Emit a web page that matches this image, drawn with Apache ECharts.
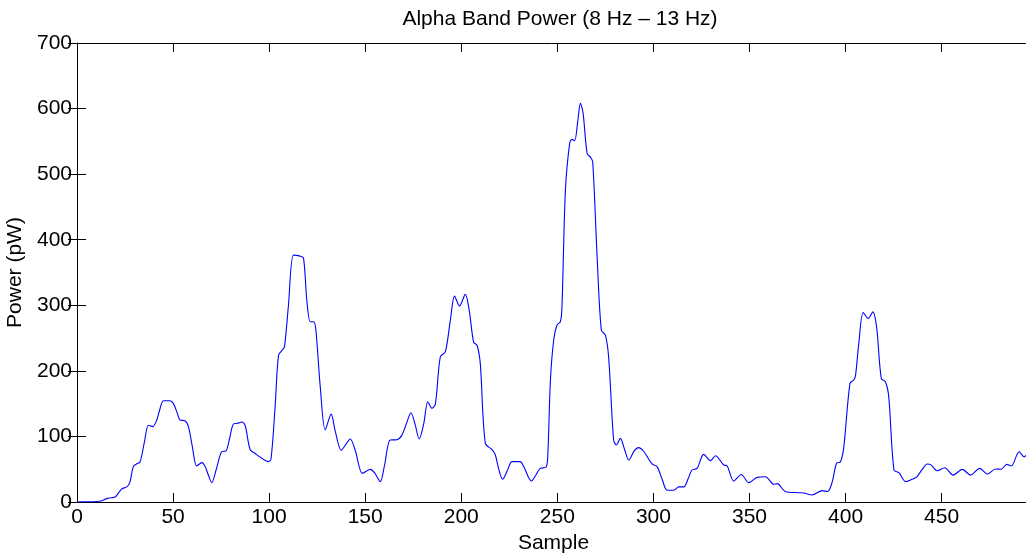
<!DOCTYPE html>
<html>
<head>
<meta charset="utf-8">
<script src="https://cdn.jsdelivr.net/npm/echarts@6/dist/echarts.min.js"></script>
<style>html,body{margin:0;padding:0;background:#fff}#c{width:1026px;height:554px}</style>
</head>
<body>
<div id="c"></div>
<script>
const titleText = 'Alpha Band Power (8 Hz \u2013 13 Hz)';
const xName = 'Sample';
const yName = 'Power (pW)';
const xTicks = [0, 50, 100, 150, 200, 250, 300, 350, 400, 450];
const yTicks = [0, 100, 200, 300, 400, 500, 600, 700];
const sampleX = [0,5,10,13,15.6,18,20,23.3,25.9,27.5,29.3,31,32.8,35,37.2,39.4,41.4,43,45,48.4,50.2,52,53.6,56.25,58,60,62.3,65,66.7,68.5,70.1,72.5,75.3,77.6,79.5,81.4,83.5,85.8,87.5,90.1,92.7,96.2,99.6,101,103.1,104.9,106.9,108,110,112.7,116.1,117.9,119.6,121.4,123.1,124.3,126.6,129.2,132.3,134.4,137.5,140,142.2,144.8,148.6,152.6,155,157.8,160,163,166.5,169.1,171.5,173.8,176,178.1,180.5,182.6,184.7,186.5,189.1,191.7,194.3,196.5,199.1,202.1,204.2,206.4,208.2,209.9,212.5,216,217.7,219.5,221.5,224,226.4,230.7,232.5,236.5,239,241.1,244.1,245,246.4,248.1,249.8,251.6,252.4,254.2,256.4,257.6,259,260.6,262,263.4,265.5,267.2,268.4,270.7,272.9,275,276.7,279.3,280.7,282.8,285,287.2,290,292.3,295,299.3,301.9,304.5,307.1,310.6,313.2,315.8,318,320.1,322.7,326.2,329.7,332.3,336.6,338.4,341.8,345.7,349.7,354,358.3,362.7,364.4,368.8,375.7,378.3,382.6,387.8,390.7,393.1,395.3,397.4,399.1,402.3,404.3,405.2,406.9,409.2,411.8,414.2,416.2,418.6,420.8,422.5,425.2,427.8,431.3,435.6,437,440,442.5,444.3,447.7,451.6,456,460.8,465.1,469.8,473.8,478.1,481,483.9,486.3,490.3,492.9,494.3,496];
const power = [0,0.3,0.8,2,5.5,6.5,8,20,23,30,54,58,61,90,117,115,124,140,154.5,154.5,150,137,125,124,115,85,55,60,54,40,29.5,50,76.7,78,98,119,120,122,117,80,74,66.6,61.5,66,145,224,232,237,298,376.5,375,372,308,275,275,263,176,110,134,108,79,88,96,79,43.7,49.8,44,31,55,94.5,95,102,120,136,118,96,120,153,143,149,221.5,229,277,314,299,316.6,291,244,239,211,89.5,80,72,50,34.6,48,61.5,61.5,54,32,42,51.3,53,69,186,247,270,275,297,475.6,547,553,551,580,608,593,531.5,526,519,374,262,254.6,221,94.5,87,97,80,64,78,83,77,58,54,35,18,18,23,23,35,48.8,51.3,72.7,63,70.6,56.4,55,32,42,29.5,37.6,38.4,27,28,15.7,14.2,13.7,10.7,17.3,16,31,59,61.5,84,181,186,193,242,289,280,290,266,188.5,183,160,48.8,44.7,31,36,38,50,58,57,47.7,52.3,41,49.8,41,51.3,42.7,50.3,50,57.4,55,76.7,69,71.5,72];

const font = '"Liberation Sans", Arial, Helvetica, sans-serif';
const chart = echarts.init(document.getElementById('c'), null, {renderer: 'canvas'});
const seriesData = sampleX.map((x, i) => [x, power[i]]);
const xMin = xTicks[0], xMax = 496, yMin = yTicks[0], yMax = yTicks[yTicks.length - 1];
const tickStyle = {show: true, inside: true, length: 9, lineStyle: {color: '#000', width: 1}};
chart.setOption({
  animation: false,
  backgroundColor: '#fff',
  title: {
    text: titleText, left: 555, top: 4, textAlign: 'center',
    textStyle: {fontFamily: font, fontSize: 21, fontWeight: 'normal', color: '#000'}
  },
  grid: {left: 77, top: 43, right: -4, bottom: 52, containLabel: false, outerBoundsMode: 'none'},
  xAxis: [{
    type: 'value', min: xMin, max: xMax, interval: 50, position: 'bottom',
    name: xName, nameLocation: 'middle', nameGap: 22,
    nameTextStyle: {fontFamily: font, fontSize: 21, color: '#000'},
    axisLine: {show: true, onZero: false, lineStyle: {color: '#000', width: 1}},
    axisTick: tickStyle,
    axisLabel: {fontFamily: font, fontSize: 21, color: '#000', margin: 5, showMaxLabel: false},
    splitLine: {show: false}
  }, {
    type: 'value', min: xMin, max: xMax, interval: 50, position: 'top',
    axisLine: {show: true, onZero: false, lineStyle: {color: '#000', width: 1}},
    axisTick: tickStyle, axisLabel: {show: false}, splitLine: {show: false}
  }],
  yAxis: [{
    type: 'value', min: yMin, max: yMax, interval: 100, position: 'left',
    name: yName, nameLocation: 'middle', nameGap: 42, nameRotate: 90,
    nameTextStyle: {fontFamily: font, fontSize: 21, color: '#000'},
    axisLine: {show: true, onZero: false, lineStyle: {color: '#000', width: 1}},
    axisTick: tickStyle,
    axisLabel: {fontFamily: font, fontSize: 21, color: '#000', margin: 5},
    splitLine: {show: false}
  }, {
    type: 'value', min: yMin, max: yMax, interval: 100, position: 'right',
    axisLine: {show: false}, axisTick: tickStyle, axisLabel: {show: false}, splitLine: {show: false}
  }],
  series: [{
    type: 'line', data: seriesData, xAxisIndex: 0, yAxisIndex: 0,
    showSymbol: false, smooth: 0.3, clip: true,
    lineStyle: {color: '#0000ff', width: 1.1}
  }]
});
</script>
</body>
</html>
